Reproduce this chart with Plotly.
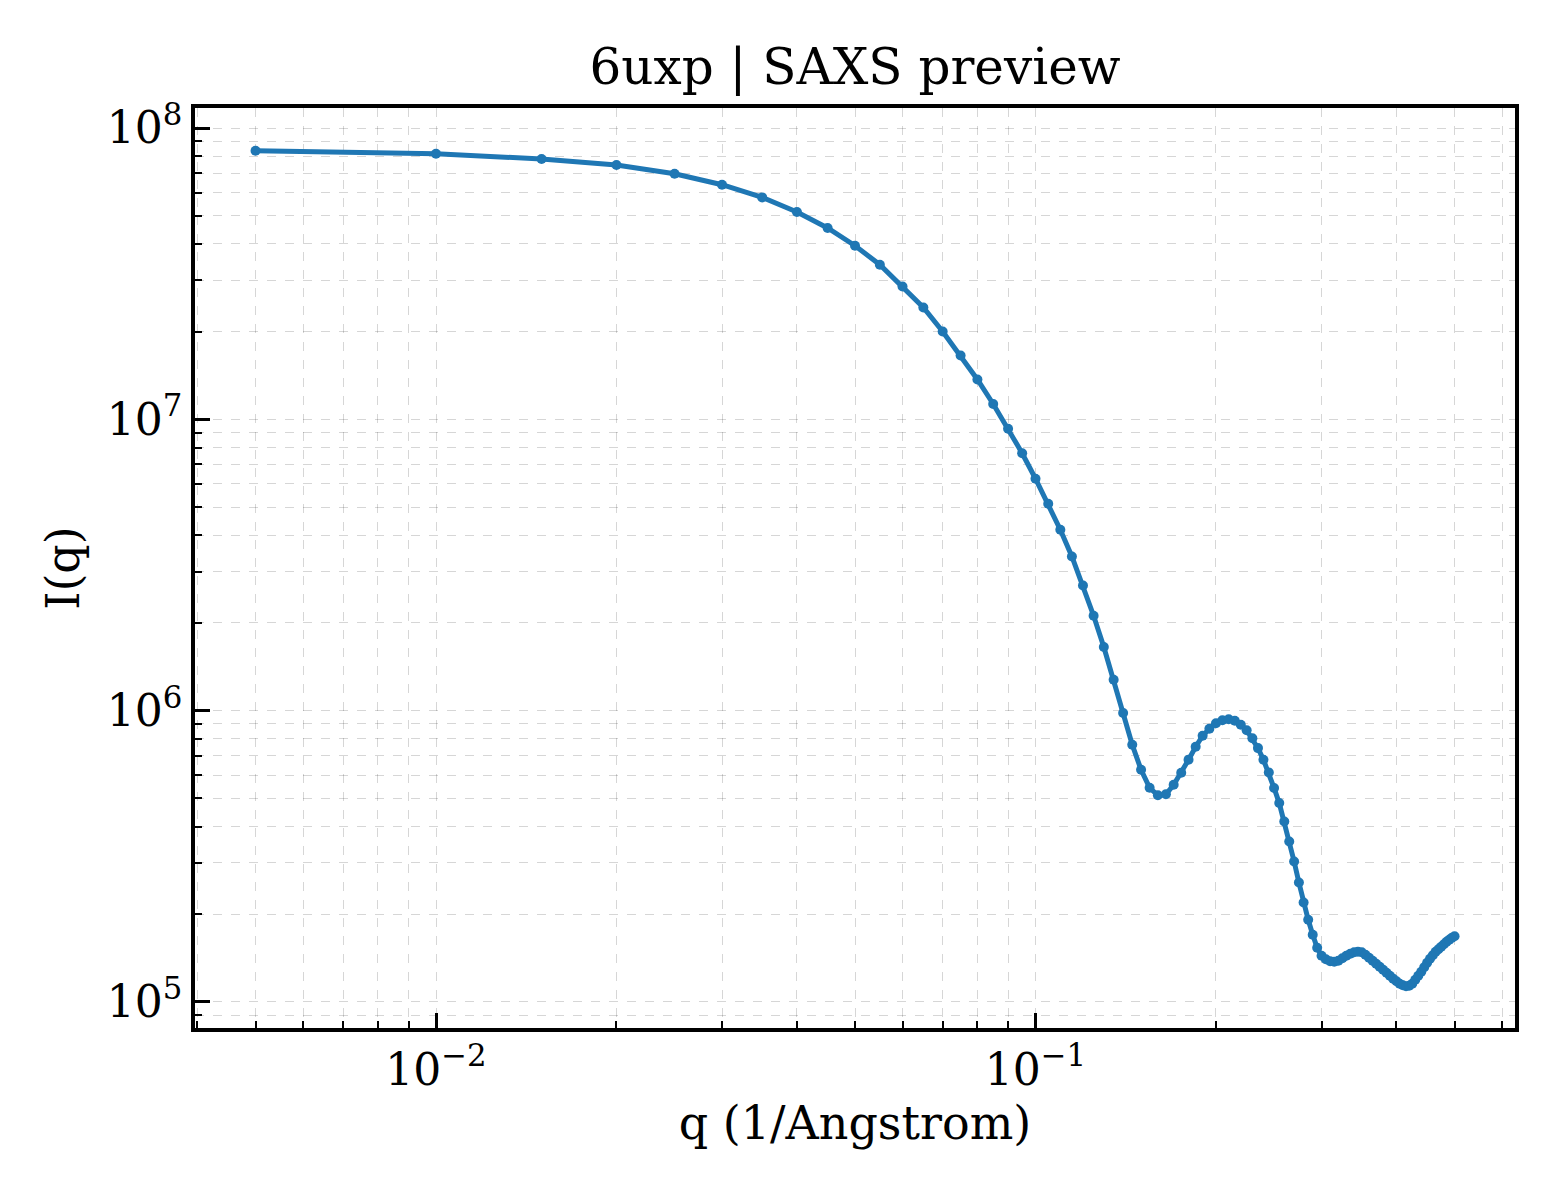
import plotly.graph_objects as go

# scattering vector q (1/Angstrom), one point every 0.005
q = [
    0.005, 0.010, 0.015, 0.020, 0.025, 0.030, 0.035, 0.040, 0.045, 0.050,
    0.055, 0.060, 0.065, 0.070, 0.075, 0.080, 0.085, 0.090, 0.095, 0.100,
    0.105, 0.110, 0.115, 0.120, 0.125, 0.130, 0.135, 0.140, 0.145, 0.150,
    0.155, 0.160, 0.165, 0.170, 0.175, 0.180, 0.185, 0.190, 0.195, 0.200,
    0.205, 0.210, 0.215, 0.220, 0.225, 0.230, 0.235, 0.240, 0.245, 0.250,
    0.255, 0.260, 0.265, 0.270, 0.275, 0.280, 0.285, 0.290, 0.295, 0.300,
    0.305, 0.310, 0.315, 0.320, 0.325, 0.330, 0.335, 0.340, 0.345, 0.350,
    0.355, 0.360, 0.365, 0.370, 0.375, 0.380, 0.385, 0.390, 0.395, 0.400,
    0.405, 0.410, 0.415, 0.420, 0.425, 0.430, 0.435, 0.440, 0.445, 0.450,
    0.455, 0.460, 0.465, 0.470, 0.475, 0.480, 0.485, 0.490, 0.495, 0.500,
]

# intensity I(q)
intensity = [
    8.357e7, 8.161e7, 7.826e7, 7.463e7, 6.968e7, 6.389e7, 5.778e7, 5.148e7, 4.537e7, 3.945e7,
    3.394e7, 2.859e7, 2.422e7, 2.003e7, 1.657e7, 1.371e7, 1.129e7, 9.284e6, 7.648e6, 6.254e6,
    5.131e6, 4.179e6, 3.383e6, 2.690e6, 2.118e6, 1.653e6, 1.277e6, 9.812e5, 7.636e5, 6.268e5,
    5.437e5, 5.124e5, 5.164e5, 5.568e5, 6.121e5, 6.784e5, 7.516e5, 8.200e5, 8.667e5, 9.052e5,
    9.270e5, 9.343e5, 9.233e5, 8.945e5, 8.565e5, 8.039e5, 7.439e5, 6.784e5, 6.136e5, 5.424e5,
    4.817e5, 4.165e5, 3.556e5, 3.036e5, 2.572e5, 2.196e5, 1.915e5, 1.701e5, 1.535e5, 1.441e5,
    1.402e5, 1.380e5, 1.374e5, 1.385e5, 1.413e5, 1.441e5, 1.464e5, 1.481e5, 1.487e5, 1.481e5,
    1.452e5, 1.418e5, 1.385e5, 1.352e5, 1.321e5, 1.290e5, 1.260e5, 1.230e5, 1.201e5, 1.178e5,
    1.155e5, 1.141e5, 1.132e5, 1.137e5, 1.155e5, 1.192e5, 1.230e5, 1.270e5, 1.316e5, 1.363e5,
    1.407e5, 1.447e5, 1.487e5, 1.517e5, 1.547e5, 1.578e5, 1.609e5, 1.635e5, 1.661e5, 1.681e5,
]

x_ticks = [0.01, 0.1]
x_ticktext = ["10<sup>−2</sup>", "10<sup>−1</sup>"]
y_ticks = [1e5, 1e6, 1e7, 1e8]
y_ticktext = ["10<sup>5</sup>", "10<sup>6</sup>", "10<sup>7</sup>", "10<sup>8</sup>"]

x_minor = [m * 10.0 ** e for e in (-3, -2, -1) for m in range(2, 10)]
y_minor = [m * 10.0 ** e for e in (4, 5, 6, 7) for m in range(2, 10)]

grid_color = "rgba(0,0,0,0.16)"

fig = go.Figure()
fig.add_trace(go.Scatter(
    x=q,
    y=intensity,
    mode="lines+markers",
    line=dict(color="#1f77b4", width=5),
    marker=dict(color="#1f77b4", size=10),
    showlegend=False,
))

axis_common = dict(
    type="log",
    showline=True,
    linecolor="black",
    linewidth=3.5,
    mirror=True,
    ticks="inside",
    ticklen=15,
    tickwidth=2.5,
    tickcolor="black",
    showgrid=True,
    gridcolor=grid_color,
    gridwidth=1.2,
    griddash="dash",
    zeroline=False,
    tickfont=dict(size=44, color="black"),
)

minor_common = dict(tickmode="array", ticks="inside", ticklen=7, tickwidth=2,
                    tickcolor="black", showgrid=True, gridcolor=grid_color,
                    gridwidth=1.2, griddash="dash")

fig.update_xaxes(
    **axis_common,
    range=[-2.402, -0.2002],
    tickmode="array",
    tickvals=x_ticks,
    ticktext=x_ticktext,
    minor=dict(tickvals=x_minor, **minor_common),
    title=dict(text="q (1/Angstrom)", font=dict(size=46, color="black"), standoff=14),
)
fig.update_yaxes(
    **axis_common,
    range=[4.9107, 8.0687],
    tickmode="array",
    tickvals=y_ticks,
    ticktext=y_ticktext,
    minor=dict(tickvals=y_minor, **minor_common),
    title=dict(text="I(q)", font=dict(size=46, color="black"), standoff=14),
)

# page body adds an 8px offset, so the figure is drawn 8px smaller
fig.update_layout(
    width=1552,
    height=1192,
    margin=dict(l=187, r=45, t=100, b=172),
    paper_bgcolor="white",
    plot_bgcolor="white",
    font=dict(family="DejaVu Serif", color="black"),
    title=dict(text="6uxp | SAXS preview", x=0.5, xref="paper", xanchor="center",
               y=1 - 58 / 1192, yref="container", yanchor="middle",
               font=dict(size=50, color="black")),
)

fig.write_html("out.html")
